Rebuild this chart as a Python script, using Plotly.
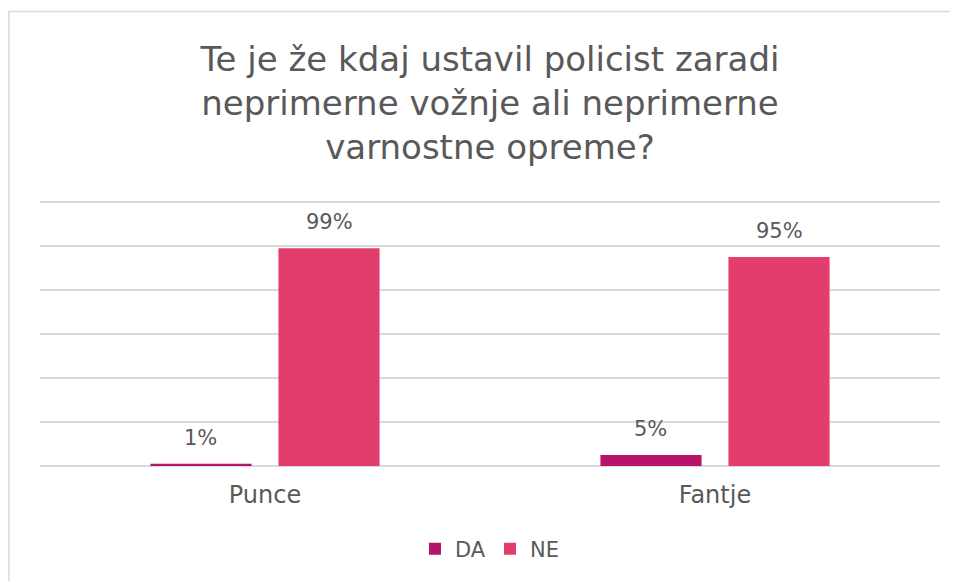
import plotly.graph_objects as go

categories = ["Punce", "Fantje"]
da_values = [1, 5]
ne_values = [99, 95]
series_names = ["DA", "NE"]
series_colors = ["#B5146A", "#E33D6E"]
title_text = "Te je že kdaj ustavil policist zaradi<br>neprimerne vožnje ali neprimerne<br>varnostne opreme?"

FONT = "DejaVu Sans, Lato, sans-serif"
TXT = "#595959"

W, H = 950, 573
L, R, T, B = 32, 18, 183, 115
plot_w = W - L - R
plot_h = H - T - B

fig = go.Figure()
for name, vals, col in zip(series_names, [da_values, ne_values], series_colors):
    fig.add_trace(go.Bar(
        x=categories, y=vals, name=name,
        marker=dict(color=col, line=dict(width=0)),
    ))

# data labels placed over each bar (group slot offset in px)
bargap, bargroupgap = 0.431, 0.21
slot_px = plot_w / len(categories) * (1 - bargap) / 2
for i, vals in enumerate([da_values, ne_values]):
    for cat, v in zip(categories, vals):
        fig.add_annotation(
            x=cat, y=v, xref="x", yref="y", text=f"{v}%", showarrow=False,
            xshift=(i - 0.5) * slot_px, yshift=26, yanchor="middle",
            font=dict(size=21, color=TXT, family=FONT),
        )

fig.update_layout(
    width=W, height=H,
    margin=dict(l=L, r=R, t=T, b=B),
    paper_bgcolor="white", plot_bgcolor="white",
    barmode="group", bargap=bargap, bargroupgap=bargroupgap,
    font=dict(family=FONT, color=TXT),
    title=dict(text=title_text, x=0.5, xref="paper", xanchor="center",
               y=1 - 63 / H, yref="container", yanchor="middle",
               font=dict(size=34, color=TXT, family=FONT)),
    legend=dict(orientation="h", x=0.5, xanchor="center", y=-83 / plot_h, yanchor="middle",
                font=dict(size=21, color=TXT, family=FONT),
                entrywidth=30, entrywidthmode="pixels",
                traceorder="normal"),
    showlegend=True,
    xaxis=dict(showline=False, ticks="", tickfont=dict(size=24, color=TXT, family=FONT),
               showgrid=False, ticklabelstandoff=12),
    yaxis=dict(range=[0, 125], tickvals=[0, 20, 40, 60, 80, 100, 120],
               showgrid=True, gridcolor="#D9D9D9", gridwidth=1.5,
               zeroline=True, zerolinecolor="#D9D9D9", zerolinewidth=1.5,
               showticklabels=False, ticks=""),
)
fig.add_shape(type="rect", xref="paper", yref="paper",
              x0=(1 - L) / plot_w, x1=(W + 10 - L) / plot_w,
              y0=-(B + 20) / plot_h, y1=1 + (T - 3.5) / plot_h,
              line=dict(color="#D9D9D9", width=1.5), fillcolor="rgba(0,0,0,0)", layer="below")

fig.write_html("out.html")
